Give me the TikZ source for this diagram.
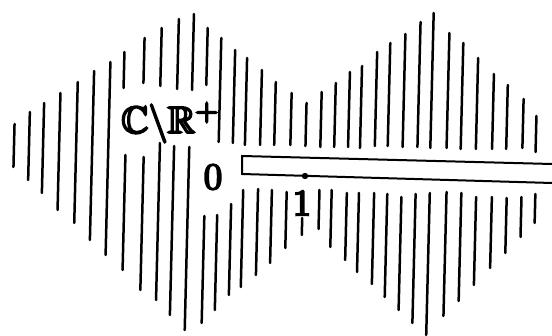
\documentclass[tikz,border=0pt]{standalone}
\usepackage{graphicx}
\usepackage{amsmath,amssymb}
\newcommand{\strokedtext}[1]{\special{pdf:literal direct 2 Tr 0.5 w}#1\special{pdf:literal direct 0 Tr}}
\begin{document}
\begin{tikzpicture}[x=1pt,y=-1pt,
  hatch/.style={line width=2.5pt,line cap=round},
  slit/.style={line width=2pt,line join=miter},
  bigtext/.style={inner sep=0pt}]
\useasboundingbox (0,0) rectangle (552,336);
% hatching segments: x at middle / top y / bottom y
\foreach \xm/\ya/\yb in {
 14/124/167, 29/112/180, 43/103/193, 59/93/210, 76/82/223, 92/71/240, 108/62/255,
 124/52/88, 124/155/270, 144/38/83, 142/157/290, 161/28/86, 158/143/300,
 178/19/89, 172/146/315, 193/14/90, 187/147/330, 207/28/85, 203/216/323,
 220/38/142, 216/215/310, 234/50/143, 230/204/295, 246/58/145, 242/190/287,
 261/70/145, 257/189/275, 275/82/145, 271/190/263, 291/93/145, 286/192/248,
 306/103/146, 302/218/235, 321/92/147, 319/190/229, 335/83/147, 331/190/247,
 349/72/147, 346/193/260, 361/66/148, 358/193/272, 376/52/146, 373/193/284,
 389/43/146, 386/194/297, 404/34/147, 400/197/310, 419/22/147, 414/194/323,
 432/13/148, 428/193/335, 448/33/148, 445/192/316, 462/43/149, 460/193/301,
 477/58/149, 475/197/285, 493/74/149, 491/197/268, 507/85/149, 506/198/253,
 523/99/148, 521/197/237, 536/116/152, 535/194/223}
 \draw[hatch] ({\xm+0.0125*(\yb-\ya)},\ya) -- ({\xm-0.0125*(\yb-\ya)},\yb);
% slit along the positive real axis
\coordinate (tr) at (552,164);
\coordinate (tl) at (242,156);
\coordinate (bl) at (242,174);
\coordinate (br) at (552,183);
\draw[slit] (tr) -- (tl) -- (bl) -- (br);
\fill (305,176) circle (3.2pt);
% labels
\node[bigtext,anchor=base west] (lab) at (121,133) {\scalebox{3.8}{\strokedtext{$\mathbb{C}\backslash\mathbb{R}^{+}$}}};
\node[bigtext] (zero) at (213,177) {\scalebox{3.7}{\strokedtext{0}}};
\node[bigtext] (one) at (302,203) {\scalebox{3.7}{\strokedtext{1}}};
\end{tikzpicture}
\end{document}
